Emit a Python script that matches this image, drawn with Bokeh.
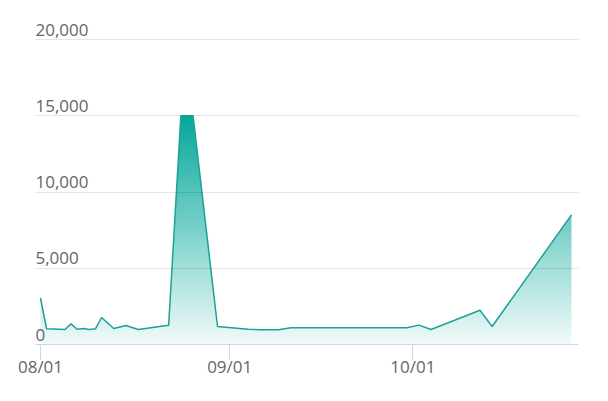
import numpy as np
import pandas as pd
from bokeh.plotting import figure
from bokeh.models import (ColumnDataSource, FixedTicker, DatetimeTickFormatter, Range1d)
from bokeh.core.properties import value
from bokeh.embed import file_html
from bokeh.resources import INLINE

# ---- data ----
dates = ["2023-08-01", "2023-08-02", "2023-08-05", "2023-08-06", "2023-08-07",
         "2023-08-08", "2023-08-09", "2023-08-10", "2023-08-11", "2023-08-13",
         "2023-08-15", "2023-08-17", "2023-08-22", "2023-08-24", "2023-08-26",
         "2023-08-30", "2023-09-04", "2023-09-06", "2023-09-09", "2023-09-11",
         "2023-09-30", "2023-10-02", "2023-10-04", "2023-10-12", "2023-10-14",
         "2023-10-27"]
values = [3050, 1030, 985, 1350, 1000,
          1050, 985, 1030, 1770, 1050,
          1250, 985, 1270, 15000, 15000,
          1180, 1000, 970, 970, 1100,
          1100, 1270, 985, 2250, 1180,
          8500]
x_tick_dates = ["2023-08-01", "2023-09-01", "2023-10-01"]
y_tick_values = [0, 5000, 10000, 15000, 20000]
y_tick_labels = ["0", "5,000", "10,000", "15,000", "20,000"]

# ---- styling ----
FONT = "Open Sans"
TEXT_COLOR = "#666666"
TEAL_LINE = "#1aa297"
TEAL_FILL = "#05a89b"
AXIS_COLOR = "#ccd6eb"

x = pd.to_datetime(dates)
day_ms = 86400000.0
t0 = pd.Timestamp(x_tick_dates[0]).value / 1e6
x_start = t0 - 0.82 * day_ms
x_end = t0 + 88.15 * day_ms

W, H = 600, 393
p = figure(width=W, height=H, x_axis_type="datetime", y_axis_location=None,
           output_backend="svg", toolbar_location=None,
           min_border_left=35, min_border_right=22, min_border_top=20,
           min_border_bottom=49)
p.x_range = Range1d(x_start, x_end)
p.y_range = Range1d(0, 21246)
p.outline_line_color = None
p.background_fill_color = "white"
p.border_fill_color = "white"

src = ColumnDataSource(dict(x=x, y=values))

# area fill
p.varea(x="x", y1=0, y2="y", source=src, fill_color=TEAL_FILL, fill_alpha=1.0)

# white gradient overlay (fades the fill towards the bottom)
N = 256
frac = np.linspace(0, 1, N)
alpha = (0.95 * (1 - frac)) * 255
img = np.zeros((N, 1), dtype=np.uint32)
view = img.view(dtype=np.uint8).reshape((N, 1, 4))
view[:, 0, 0] = 255
view[:, 0, 1] = 255
view[:, 0, 2] = 255
view[:, 0, 3] = alpha.astype(np.uint8)
top_val = max(values)
p.image_rgba(image=[img], x=x_start, y=0, dw=x_end - x_start, dh=top_val)

# line
p.line(x="x", y="y", source=src, line_color=TEAL_LINE, line_width=1.5)

# grid
p.xgrid.visible = False
p.ygrid.ticker = FixedTicker(ticks=y_tick_values[1:])
p.ygrid.grid_line_color = "black"
p.ygrid.grid_line_alpha = 0.1
p.ygrid.grid_line_width = 1
p.ygrid.level = "overlay"

# y labels drawn inside the plot, above the grid lines
lab_src = ColumnDataSource(dict(x=[x_start] * len(y_tick_values), y=y_tick_values,
                                t=y_tick_labels))
p.text(x="x", y="y", text="t", source=lab_src, text_align="left",
       text_baseline="bottom", y_offset=-4, text_color=TEXT_COLOR,
       text_font=value(FONT), text_font_size="17px")

# x axis
xa = p.xaxis[0]
xa.ticker = FixedTicker(ticks=[pd.Timestamp(d).value / 1e6 for d in x_tick_dates])
xa.formatter = DatetimeTickFormatter(days="%m/%d", months="%m/%d", years="%m/%d",
                                     hours="%m/%d", minutes="%m/%d")
xa.axis_line_color = AXIS_COLOR
xa.axis_line_width = 1
xa.major_tick_line_color = AXIS_COLOR
xa.major_tick_in = 0
xa.major_tick_out = 15
xa.minor_tick_line_color = None
xa.major_label_text_color = TEXT_COLOR
xa.major_label_text_font = FONT
xa.major_label_text_font_size = "17px"
xa.major_label_standoff = -5

open("out.html", "w").write(file_html(p, INLINE))
